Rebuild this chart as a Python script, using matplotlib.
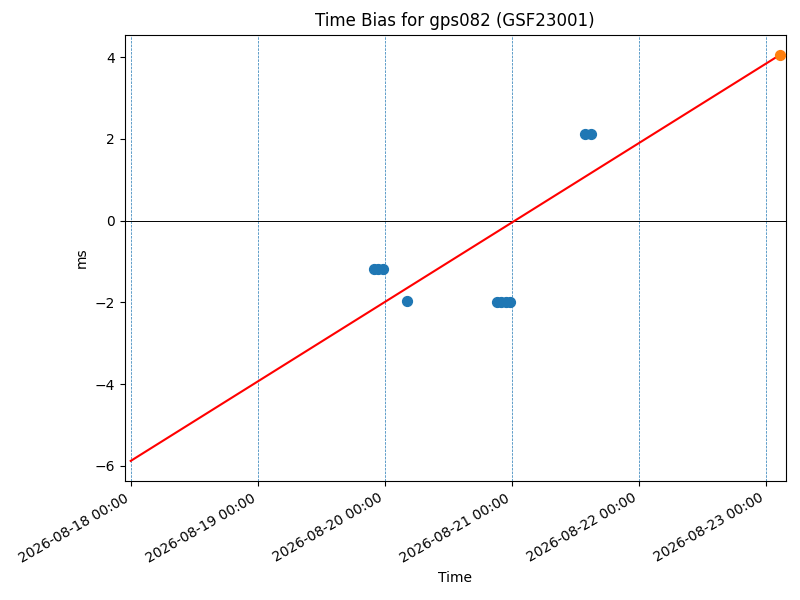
import matplotlib
matplotlib.use("Agg")
import matplotlib.pyplot as plt
import matplotlib.dates as mdates
import pandas as pd

# medições de bias (ms)
obs_times = pd.to_datetime([
    "2026-08-19 21:55", "2026-08-19 22:40", "2026-08-19 23:37",
    "2026-08-20 04:09",
    "2026-08-20 21:10", "2026-08-20 21:55", "2026-08-20 22:53", "2026-08-20 23:37",
    "2026-08-21 13:48", "2026-08-21 14:56",
])
obs_bias = [-1.18, -1.18, -1.18, -1.96, -2.0, -2.0, -2.0, -2.0, 2.11, 2.11]

# ajuste linear e previsão
fit_times = pd.to_datetime(["2026-08-18 00:00", "2026-08-23 02:38"])
fit_bias = [-5.88, 4.05]
pred_time = pd.to_datetime(["2026-08-23 02:38"])
pred_bias = [4.05]

day_lines = pd.date_range("2026-08-18", "2026-08-23", freq="D")

fig, ax = plt.subplots(figsize=(8, 6), dpi=100)
for d in day_lines:
    ax.axvline(d, color="C0", linestyle="--", linewidth=0.5)
ax.axhline(0, color="black", linewidth=0.7)

ax.scatter(obs_times, obs_bias, color="C0", s=50, zorder=3)
ax.plot(fit_times, fit_bias, color="red", zorder=2)
ax.scatter(pred_time, pred_bias, color="C1", s=50, zorder=3)

ax.set_xlim(pd.Timestamp("2026-08-17 22:53"), pd.Timestamp("2026-08-23 03:46"))
ax.xaxis.set_major_locator(mdates.DayLocator())
ax.xaxis.set_major_formatter(mdates.DateFormatter("%Y-%m-%d %H:%M"))
plt.setp(ax.get_xticklabels(), rotation=30, ha="right")

ax.set_xlabel("Time")
ax.set_ylabel("ms")
ax.set_title("Time Bias for gps082 (GSF23001)")

fig.subplots_adjust(left=0.156, right=0.982, top=0.942, bottom=0.198)
fig.savefig("out.png")
